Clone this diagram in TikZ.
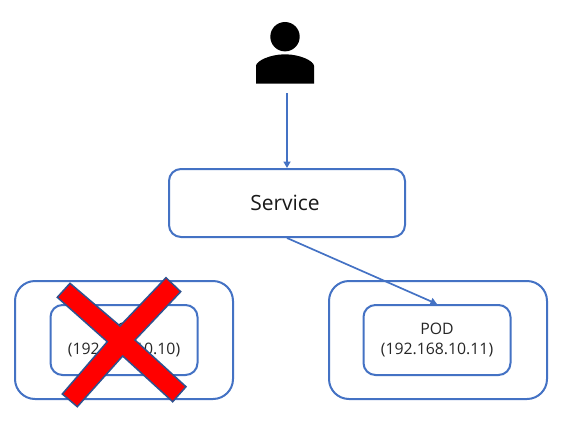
\documentclass[tikz,border=0pt]{standalone}
\usepackage{fontspec}
\setmainfont{Open Sans}
\usetikzlibrary{arrows.meta}
\definecolor{boxblue}{HTML}{4472C4}
\definecolor{xedge}{HTML}{2F528F}
\tikzset{
  x=1pt,y=-1pt,
  boxbase/.style={draw=boxblue,line width=2pt,rectangle,fill=white,inner sep=0pt},
  outerbox/.style={boxbase,minimum width=218pt,minimum height=118pt,rounded corners=20pt},
  innerbox/.style={boxbase,minimum width=147pt,minimum height=70pt,rounded corners=12pt,align=center,font=\fontsize{15.8}{20}\selectfont,text=black!85},
  servicebox/.style={boxbase,minimum width=236pt,minimum height=68pt,rounded corners=12pt,font=\fontsize{21}{24}\selectfont,text=black!90},
  flow/.style={draw=boxblue,line width=1.7pt,-{Triangle[length=6.5pt,width=7pt]},shorten <=0pt},
  crossmark/.style={fill=red,draw=xedge,line width=1.5pt,line join=miter}
}
\begin{document}
\begin{tikzpicture}
\useasboundingbox (0,0) rectangle (564,420);
% user icon
\node[minimum width=58pt,minimum height=72pt,inner sep=0pt] (user) at (287,57.5) {};
\fill[black] (285,36.7) circle (14.7);
\fill[black] (256,83.5) -- (256,66) .. controls (256,61) and (270,54.3) .. (285,54.3)
  .. controls (300,54.3) and (314,61) .. (314,66) -- (314,83.5) -- cycle;
% boxes
\node[servicebox,text depth=0pt] (service) at (287,203) {\hspace{-4pt}Service};
\node[outerbox] (nodeA) at (124,340) {};
\node[outerbox] (nodeB) at (438,340) {};
\node[innerbox] (podA) at (124,340) {POD\\(192.168.10.10)};
\node[innerbox] (podB) at (437,340) {POD\\(192.168.10.11)};
% connectors
\coordinate (userout) at (287,93);
\draw[flow] (userout) -- (service.north);
\draw[flow] (service.south) -- (podB.north);
% red cross
\draw[crossmark] (70,283.3) -- (57.3,297.3) -- (107.3,341.7) -- (62.3,394) -- (77.3,406.7)
  -- (122.7,356) -- (172.7,401.7) -- (186,386.7) -- (135,340) -- (180.7,291.7)
  -- (166,277.7) -- (120,326) -- cycle;
\end{tikzpicture}
\end{document}
